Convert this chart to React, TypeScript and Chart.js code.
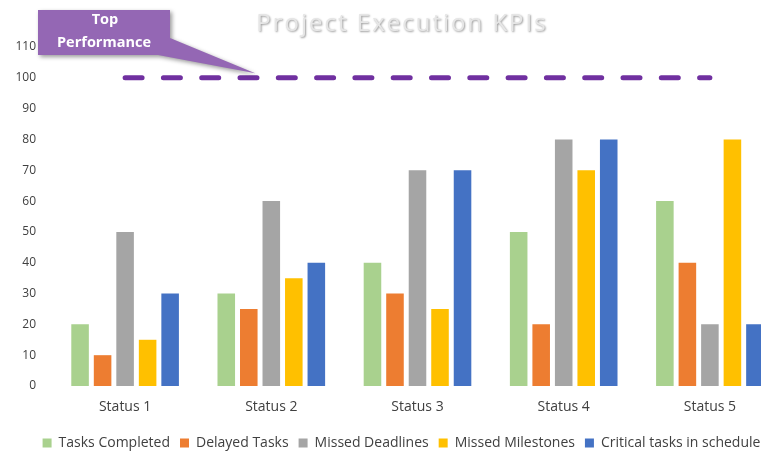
import React, { useEffect, useRef } from 'react';
import { Chart, registerables } from 'chart.js';

Chart.register(...registerables);

const categories = ['Status 1', 'Status 2', 'Status 3', 'Status 4', 'Status 5'];
const seriesNames = ['Tasks Completed', 'Delayed Tasks', 'Missed Deadlines', 'Missed Milestones', 'Critical tasks in schedule'];
const tasksCompleted = [20, 30, 40, 50, 60];
const delayedTasks = [10, 25, 30, 20, 40];
const missedDeadlines = [50, 60, 70, 80, 20];
const missedMilestones = [15, 35, 25, 70, 80];
const criticalTasks = [30, 40, 70, 80, 20];
const topPerformance = [100, 100, 100, 100, 100];
const seriesColors = ['#A9D18E', '#ED7D31', '#A5A5A5', '#FFC000', '#4472C4'];
const yMin = 0;
const yMax = 110;
const yStep = 10;
const titleText = 'Project Execution KPIs';
const calloutLines = ['Top', 'Performance'];

const W = 800;
const H = 460;

const legendShiftPlugin = {
  id: 'legendShift',
  afterLayout(chart: any) {
    const lg = chart.legend;
    if (lg) {
      lg.left += 10;
      lg.right += 10;
    }
  },
};

const decorPlugin = {
  id: 'decor',
  afterDraw(chart: any) {
    const ctx = chart.ctx;
    const xs = chart.scales.x;
    const ys = chart.scales.y;
    // Title
    ctx.save();
    ctx.font = '24px "Open Sans", sans-serif';
    try { (ctx as any).letterSpacing = '2px'; } catch (e) {}
    ctx.textAlign = 'center';
    ctx.textBaseline = 'middle';
    ctx.shadowColor = 'rgba(0,0,0,0.4)';
    ctx.shadowOffsetX = 1;
    ctx.shadowOffsetY = 1;
    ctx.shadowBlur = 2;
    ctx.fillStyle = '#e6e6e6';
    ctx.fillText(titleText, 402, 24);
    ctx.restore();

    // Callout
    const tipX = xs.getPixelForValue(0) + (xs.getPixelForValue(1) - xs.getPixelForValue(0)) * 0.89;
    const tipY = ys.getPixelForValue(101.5);
    const bx = 38, by = 10, bw = 132, bh = 45;
    ctx.save();
    ctx.fillStyle = '#9467b4';
    ctx.shadowColor = 'rgba(0,0,0,0.4)';
    ctx.shadowOffsetX = 2;
    ctx.shadowOffsetY = 2;
    ctx.shadowBlur = 4;
    ctx.beginPath();
    ctx.moveTo(bx, by);
    ctx.lineTo(bx + bw, by);
    ctx.lineTo(bx + bw, by + 28);
    ctx.lineTo(tipX, tipY);
    ctx.lineTo(bx + bw - 12, by + bh);
    ctx.lineTo(bx, by + bh);
    ctx.closePath();
    ctx.fill();
    ctx.restore();
    ctx.save();
    ctx.fillStyle = '#ffffff';
    ctx.font = 'bold 14.5px "Open Sans", sans-serif';
    ctx.textAlign = 'center';
    ctx.textBaseline = 'middle';
    ctx.fillText(calloutLines[0], 105, 20);
    ctx.fillText(calloutLines[1], 104, 43);
    ctx.restore();
  },
};

export default function App() {
  const ref = useRef<HTMLCanvasElement | null>(null);
  useEffect(() => {
    const barValues = [tasksCompleted, delayedTasks, missedDeadlines, missedMilestones, criticalTasks];
    const datasets: any[] = barValues.map((vals, i) => ({
      type: 'bar',
      label: seriesNames[i],
      data: vals,
      backgroundColor: seriesColors[i],
      borderWidth: 0,
      categoryPercentage: 0.77,
      barPercentage: 0.78,
      order: 2,
    }));
    datasets.push({
      type: 'line',
      label: 'Top Performance',
      data: topPerformance,
      borderColor: '#7030A0',
      borderWidth: 5,
      borderDash: [17, 21.3],
      borderCapStyle: 'round',
      pointRadius: 0,
      fill: false,
      order: 1,
    });
    const chart = new Chart(ref.current as HTMLCanvasElement, {
      type: 'bar',
      data: { labels: categories, datasets },
      options: {
        animation: false,
        responsive: false,
        devicePixelRatio: 1,
        layout: { padding: { top: 47, right: 17, left: 0, bottom: 0 } },
        plugins: {
          title: { display: false },
          tooltip: { enabled: false },
          legend: {
            position: 'bottom',
            labels: {
              filter: (item: any) => item.datasetIndex < 5,
              boxWidth: 9,
              boxHeight: 9,
              padding: 10,
              color: '#404040',
              font: { family: '"Open Sans", sans-serif', size: 14 },
            },
          },
        },
        scales: {
          x: {
            grid: { display: false, drawTicks: false },
            border: { display: false },
            ticks: { color: '#404040', padding: 13, font: { family: '"Open Sans", sans-serif', size: 14 } },
            afterFit: (s: any) => { s.height = 40; },
          },
          y: {
            min: yMin,
            max: yMax,
            grid: { display: false, drawTicks: false },
            border: { display: false },
            ticks: { stepSize: yStep, color: '#404040', padding: 16, font: { family: '"Open Sans", sans-serif', size: 12 } },
            afterFit: (s: any) => { s.width = 52; },
          },
        },
      } as any,
      plugins: [legendShiftPlugin, decorPlugin],
    });
    return () => chart.destroy();
  }, []);
  return (
    <div style={{ position: 'fixed', left: 0, top: 0, width: W, height: H, background: '#fff' }}>
      <canvas ref={ref} width={W} height={H} style={{ width: W, height: H, display: 'block' }} />
    </div>
  );
}
